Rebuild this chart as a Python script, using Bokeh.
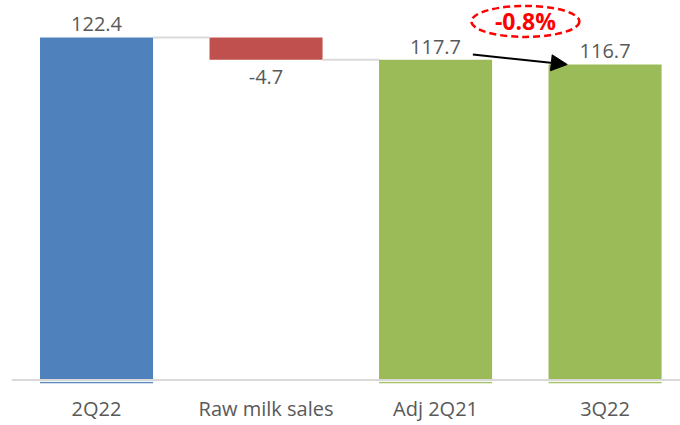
from bokeh.plotting import figure
from bokeh.models import Range1d, FixedTicker, Span, ColumnDataSource, Arrow, NormalHead
from bokeh.core.properties import value
from bokeh.embed import file_html
from bokeh.resources import INLINE

# ---- data ----
categories = ["2Q22", "Raw milk sales", "Adj 2Q21", "3Q22"]
values = [122.4, -4.7, 117.7, 116.7]
kinds = ["total", "delta", "total", "total"]
colors = ["#4F81BD", "#C0504D", "#9BBB59", "#9BBB59"]
value_labels = ["122.4", "-4.7", "117.7", "116.7"]

AXIS_MIN = 50
Y_START = 49.26
Y_END = 130.22
BAR_W = 0.667
FONT = "Open Sans"
GRAY_TXT = "#595959"
W, H = 680, 425
BORDER_BOTTOM = 42
PX_PER_UNIT = (H - BORDER_BOTTOM) / (Y_END - Y_START)

xs = list(range(len(categories)))
tops, bottoms = [], []
running = 0.0
for v, k in zip(values, kinds):
    if k == "total":
        tops.append(v)
        bottoms.append(Y_START)
        running = v
    else:
        tops.append(max(running, running + v))
        bottoms.append(min(running, running + v))
        running += v

p = figure(width=W, height=H, x_range=Range1d(-0.5015, 3.445),
           y_range=Range1d(Y_START, Y_END), output_backend="svg",
           toolbar_location=None, y_axis_location=None,
           min_border_left=11, min_border_right=0, min_border_top=0,
           min_border_bottom=BORDER_BOTTOM)
p.grid.visible = False
p.outline_line_color = None
p.background_fill_color = "white"
p.border_fill_color = "white"

src = ColumnDataSource(dict(x=xs, top=tops, bottom=bottoms, color=colors))
p.vbar(x="x", top="top", bottom="bottom", width=BAR_W, fill_color="color",
       line_color=None, source=src)

# connector lines
cx0, cx1, cy = [], [], []
for i in range(len(values) - 1):
    if kinds[i + 1] == "delta":
        cx0.append(xs[i] + BAR_W / 2); cx1.append(xs[i + 1] - BAR_W / 2)
        cy.append(tops[i])
    elif kinds[i] == "delta":
        cx0.append(xs[i] + BAR_W / 2); cx1.append(xs[i + 1] - BAR_W / 2)
        cy.append(bottoms[i])
p.segment(x0=cx0, y0=cy, x1=cx1, y1=cy, line_color="#D9D9D9", line_width=2)

# baseline (axis)
p.add_layout(Span(location=AXIS_MIN, dimension="width", line_color="#D9D9D9", line_width=2))
p.add_layout(Span(location=AXIS_MIN - 1.6 / PX_PER_UNIT, dimension="width",
                  line_color="white", line_width=1))

# value labels (pixel gaps converted to data units)
pos_idx = [i for i, v in enumerate(values) if v >= 0]
neg_idx = [i for i, v in enumerate(values) if v < 0]
p.text(x=[xs[i] for i in pos_idx], y=[tops[i] + 13 / PX_PER_UNIT for i in pos_idx],
       text=[value_labels[i] for i in pos_idx], text_align="center",
       text_baseline="alphabetic", text_font=value(FONT),
       text_font_size="20px", text_color=GRAY_TXT)
p.text(x=[xs[i] for i in neg_idx], y=[bottoms[i] - 17 / PX_PER_UNIT for i in neg_idx],
       text=[value_labels[i] for i in neg_idx], text_align="center",
       text_baseline="alphabetic", text_font=value(FONT),
       text_font_size="20px", text_color=GRAY_TXT)

# change arrow and percentage
pct = (values[3] / values[2] - 1) * 100
p.add_layout(Arrow(end=NormalHead(size=16, fill_color="black", line_color="black"),
                   x_start=xs[2] + 0.22, y_start=values[2] + 1.1,
                   x_end=xs[3] - 0.223, y_end=values[3],
                   line_color="black", line_width=2))
ex = (xs[2] + xs[3]) / 2 + 0.03
ey = max(values[2], values[3]) + 8.1
p.ellipse(x=[ex], y=[ey], width=108, height=31, width_units="screen",
          height_units="screen", fill_color=None, line_color="#FF0000",
          line_width=2.5, line_dash="7 4")
p.text(x=[ex], y=[ey], text=[f"{pct:.1f}%"], text_align="center",
       text_baseline="middle", text_font=value(FONT), text_font_style="bold",
       text_font_size="23px", text_color="#FF0000")

# x axis
ax = p.xaxis[0]
ax.ticker = FixedTicker(ticks=xs)
ax.major_label_overrides = {i: c for i, c in zip(xs, categories)}
ax.axis_line_color = None
ax.major_tick_line_color = None
ax.minor_tick_line_color = None
ax.major_tick_out = 0
ax.major_tick_in = 0
ax.major_label_standoff = 11
ax.major_label_text_font = FONT
ax.major_label_text_font_size = "20px"
ax.major_label_text_color = GRAY_TXT

open("out.html", "w").write(file_html(p, INLINE))
